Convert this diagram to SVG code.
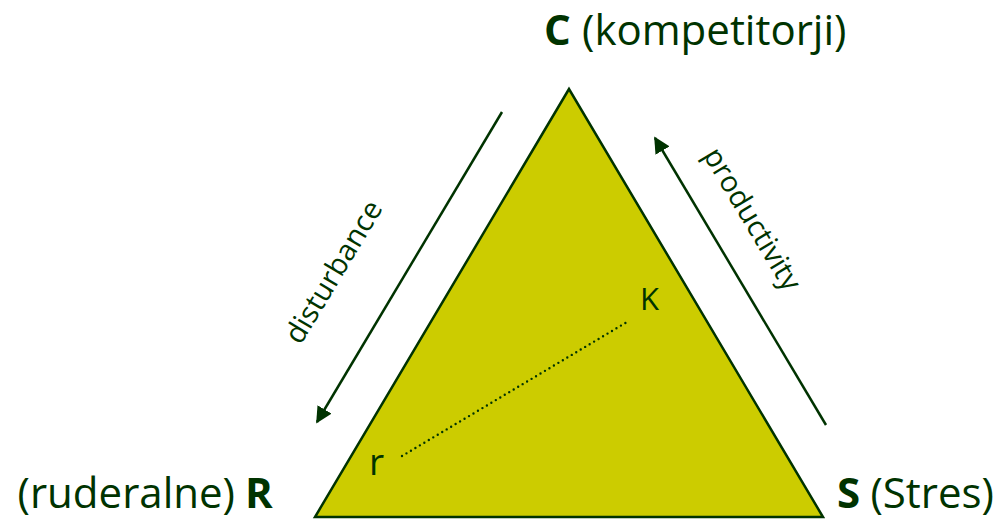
<svg xmlns="http://www.w3.org/2000/svg" width="999" height="521" viewBox="0 0 999 521">
  <style>
    .lbl { font-family: "Open Sans", "Noto Sans", sans-serif; fill: #003300; }
    .corner { font-size: 42px; }
    .axis { font-size: 29px; }
    .pt { font-size: 31px; }
    .b { font-weight: bold; }
    .conn { stroke: #003300; stroke-width: 2.5; fill: none; }
  </style>
  <defs>
    <marker id="head" viewBox="0 0 10 10" refX="9" refY="5" markerWidth="6.5" markerHeight="6.5" orient="auto" markerUnits="strokeWidth">
      <path d="M0,0 L10,5 L0,10 Z" fill="#003300"/>
    </marker>
  </defs>

  <!-- CSR triangle -->
  <g id="triangle">
    <polygon points="569,89 315,517 823,517" fill="#CCCC00" stroke="#003300" stroke-width="2.5" stroke-linejoin="miter"/>
  </g>

  <!-- corner labels: bold strategy letter plus its name -->
  <g id="node-C">
    <text class="lbl corner b" x="544" y="45">C</text>
    <text class="lbl corner" x="582" y="45">(kompetitorji)</text>
  </g>
  <g id="node-R">
    <text class="lbl corner" x="235" y="508" text-anchor="end">(ruderalne)</text>
    <text class="lbl corner b" x="245" y="508">R</text>
  </g>
  <g id="node-S">
    <text class="lbl corner b" x="837" y="508">S</text>
    <text class="lbl corner" x="994" y="508" text-anchor="end">(Stres)</text>
  </g>

  <!-- r / K points -->
  <g id="node-K">
    <text class="lbl pt" x="640" y="310">K</text>
  </g>
  <g id="node-r">
    <text class="lbl pt" x="369" y="475" style="font-size:37px">r</text>
  </g>

  <!-- connectors -->
  <g id="connectors">
    <line class="conn" x1="502" y1="112" x2="317" y2="422" marker-end="url(#head)"/>
    <line class="conn" x1="826" y1="425" x2="655" y2="138" marker-end="url(#head)"/>
    <line x1="402" y1="456" x2="627" y2="322" stroke="#003300" stroke-width="2.4" stroke-linecap="round" stroke-dasharray="0 5.2"/>
  </g>

  <!-- axis labels -->
  <g id="label-disturbance">
    <text class="lbl axis" text-anchor="middle" transform="translate(342,277) rotate(-59)">disturbance</text>
  </g>
  <g id="label-productivity">
    <text class="lbl axis" text-anchor="middle" transform="translate(744,224) rotate(59)">productivity</text>
  </g>
</svg>
